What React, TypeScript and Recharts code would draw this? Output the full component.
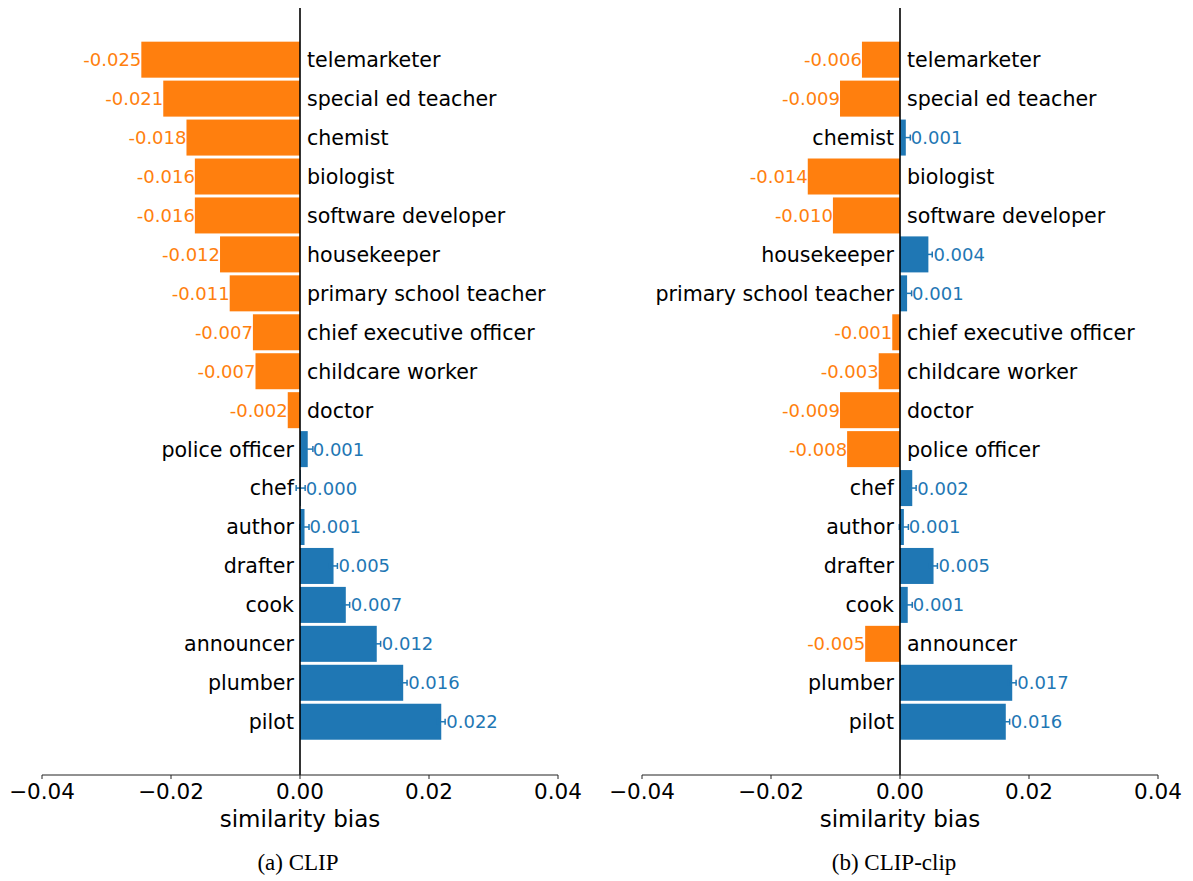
import { BarChart, Bar, XAxis, YAxis, ReferenceLine, ErrorBar } from 'recharts';

const jobs = [
  'telemarketer', 'special ed teacher', 'chemist', 'biologist', 'software developer',
  'housekeeper', 'primary school teacher', 'chief executive officer', 'childcare worker',
  'doctor', 'police officer', 'chef', 'author', 'drafter', 'cook', 'announcer', 'plumber', 'pilot',
];

// (a) CLIP
const clipBias = [
  -0.0246, -0.0212, -0.0176, -0.0163, -0.0163, -0.0124, -0.0109, -0.0073, -0.0069,
  -0.0019, 0.0012, 0.0001, 0.0007, 0.0052, 0.0071, 0.0119, 0.016, 0.0219,
];
const clipErr = [
  0.0006, 0.0006, 0.0006, 0.0006, 0.0006, 0.0006, 0.0006, 0.0006, 0.0006,
  0.0006, 0.0008, 0.0007, 0.0007, 0.0006, 0.0006, 0.0006, 0.0006, 0.0006,
];

// (b) CLIP-clip
const clipClipBias = [
  -0.0059, -0.0093, 0.0009, -0.0143, -0.0104, 0.0044, 0.0011, -0.0012, -0.0033,
  -0.0093, -0.0082, 0.0019, 0.0006, 0.0052, 0.0012, -0.0054, 0.0174, 0.0164,
];
const clipClipErr = [
  0.0006, 0.0006, 0.0007, 0.0006, 0.0006, 0.0006, 0.0007, 0.0006, 0.0006,
  0.0006, 0.0006, 0.0006, 0.0007, 0.0006, 0.0007, 0.0006, 0.0006, 0.0006,
];

const xTicks = [-0.04, -0.02, 0, 0.02, 0.04];

const ORANGE = '#ff7f0e';
const BLUE = '#1f77b4';
const FONT = '"DejaVu Sans", sans-serif';

const fmtTick = (v: number) => (v < 0 ? '\u2212' : '') + Math.abs(v).toFixed(2);

function buildRows(bias: number[], err: number[]) {
  // error bars only show on the blue bars, orange ones are hidden under the labels
  return jobs.map((name, i) => ({
    name,
    value: bias[i],
    err: bias[i] > 0 ? err[i] : null,
  }));
}

function BarWithLabels(props: any) {
  const { x, y, width, height, payload } = props;
  const v = payload.value as number;
  const left = Math.min(x, x + width);
  const right = Math.max(x, x + width);
  const zero = v < 0 ? right : left;
  const end = v < 0 ? left : right;
  const cy = y + height / 2;
  const color = v < 0 ? ORANGE : BLUE;
  return (
    <g>
      <rect x={left} y={y} width={Math.max(right - left, 0.8)} height={height} fill={color} />
      <text
        x={v < 0 ? end : end + 5}
        y={cy}
        dy="0.36em"
        textAnchor={v < 0 ? 'end' : 'start'}
        fill={color}
        fontSize={18}
        fontFamily={FONT}
      >
        {v.toFixed(3)}
      </text>
      <text
        x={v < 0 ? zero + 7 : zero - 6}
        y={cy}
        dy="0.36em"
        textAnchor={v < 0 ? 'start' : 'end'}
        fill="#000"
        fontSize={20.6}
        fontFamily={FONT}
      >
        {payload.name}
      </text>
    </g>
  );
}

function Panel({ bias, err, width, marginRight }: { bias: number[]; err: number[]; width: number; marginRight: number }) {
  const rows = buildRows(bias, err);
  return (
    <BarChart
      width={width}
      height={881}
      data={rows}
      layout="vertical"
      margin={{ top: 8, right: marginRight, left: 42, bottom: 46 }}
      barCategoryGap="4.3%"
    >
      <XAxis
        type="number"
        domain={[-0.04, 0.04]}
        ticks={xTicks}
        tickFormatter={fmtTick}
        allowDataOverflow
        stroke="#222"
        tickSize={4}
        tickMargin={5}
        height={60}
        tick={{ fill: '#000', fontSize: 21.5, fontFamily: FONT }}
        label={{ value: 'similarity bias', position: 'insideBottom', offset: 8, fill: '#000', fontSize: 23, fontFamily: FONT }}
      />
      <YAxis type="category" dataKey="name" hide width={0} padding={{ top: 32, bottom: 34 }} />
      <Bar dataKey="value" isAnimationActive={false} shape={BarWithLabels}>
        <ErrorBar dataKey="err" direction="x" width={3} stroke={BLUE} strokeWidth={1.5} />
      </Bar>
      <ReferenceLine x={0} stroke="#000" strokeWidth={1.6} />
    </BarChart>
  );
}

const captionStyle: React.CSSProperties = {
  position: 'absolute',
  top: 850,
  fontFamily: '"Liberation Serif", "Times New Roman", serif',
  fontSize: 23,
  color: '#000',
  textAlign: 'center',
  lineHeight: '26px',
};

export default function App() {
  return (
    <div style={{ position: 'absolute', left: 0, top: 0, width: 1193, height: 881, background: '#fff', overflow: 'hidden' }}>
      <div style={{ position: 'absolute', left: 0, top: 0 }}>
        <Panel bias={clipBias} err={clipErr} width={600} marginRight={42} />
      </div>
      <div style={{ position: 'absolute', left: 600, top: 0 }}>
        <Panel bias={clipClipBias} err={clipClipErr} width={593} marginRight={35} />
      </div>
      <div style={{ ...captionStyle, left: 198, width: 200 }}>(a) CLIP</div>
      <div style={{ ...captionStyle, left: 794, width: 200 }}>(b) CLIP-clip</div>
    </div>
  );
}
